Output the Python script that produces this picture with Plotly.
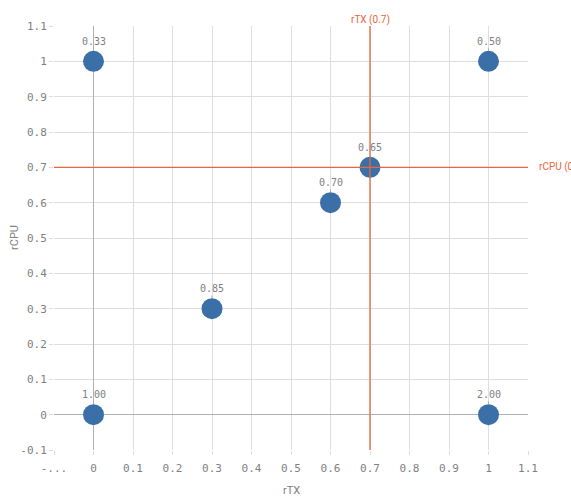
import plotly.graph_objects as go

rtx = [0, 1, 0.7, 0.6, 0.3, 0, 1]
rcpu = [1, 1, 0.7, 0.6, 0.3, 0, 0]
labels = ["0.33", "0.50", "0.65", "0.70", "0.85", "1.00", "2.00"]

x_ticks = [-0.1, 0, 0.1, 0.2, 0.3, 0.4, 0.5, 0.6, 0.7, 0.8, 0.9, 1, 1.1]
x_ticktext = ["-...", "0", "0.1", "0.2", "0.3", "0.4", "0.5", "0.6", "0.7", "0.8", "0.9", "1", "1.1"]
y_ticks = [-0.1, 0, 0.1, 0.2, 0.3, 0.4, 0.5, 0.6, 0.7, 0.8, 0.9, 1, 1.1]
y_ticktext = ["-0.1", "0", "0.1", "0.2", "0.3", "0.4", "0.5", "0.6", "0.7", "0.8", "0.9", "1", "1.1"]

ref_x = 0.7
ref_y = 0.7
ref_x_label = "rTX (0.7)"
ref_y_label = "rCPU (0.7)"

BLUE = "#3b6fa8"
ORANGE = "#e5673a"
GRID = "#dedede"
ZERO = "#b0b0b0"
TXT = "#808080"
MONO = "DejaVu Sans Mono, monospace"
SANS = "Roboto, sans-serif"

fig = go.Figure()

fig.add_trace(go.Scatter(
    x=rtx, y=rcpu, mode="markers",
    marker=dict(size=21, color=BLUE, line=dict(width=0)),
    hoverinfo="skip", showlegend=False,
))

for xv, yv, lab in zip(rtx, rcpu, labels):
    fig.add_annotation(
        x=xv, y=yv, text=lab, showarrow=True, arrowhead=0, arrowwidth=1,
        arrowcolor="#aaaaaa", ax=0, ay=-20, standoff=10.5,
        font=dict(family=MONO, size=10, color=TXT),
    )

fig.add_shape(type="line", xref="x", yref="paper", x0=ref_x, x1=ref_x, y0=0, y1=1,
              line=dict(color=ORANGE, width=1.3), layer="above")
fig.add_shape(type="line", xref="paper", yref="y", x0=0, x1=1, y0=ref_y, y1=ref_y,
              line=dict(color=ORANGE, width=1.3), layer="above")

fig.add_annotation(x=ref_x, y=1, xref="x", yref="paper", yshift=14, text=ref_x_label,
                   showarrow=False, font=dict(family=SANS, size=10, color=ORANGE))
fig.add_annotation(x=1, y=ref_y, xref="paper", yref="y", xshift=9, text=ref_y_label,
                   xanchor="left", showarrow=False,
                   font=dict(family=SANS, size=10, color=ORANGE))

# axis titles
fig.add_annotation(x=0.5, y=0, xref="paper", yref="paper", yshift=-40, text="rTX",
                   showarrow=False, yanchor="middle", font=dict(family=SANS, size=11, color=TXT))
fig.add_annotation(x=0, y=0.5, xref="paper", yref="paper", xshift=-40, text="rCPU",
                   showarrow=False, textangle=-90, xanchor="center",
                   font=dict(family=SANS, size=11, color=TXT))

fig.update_xaxes(
    range=[-0.1, 1.1], tickvals=x_ticks, ticktext=x_ticktext, automargin=False,
    showgrid=True, gridcolor=GRID, gridwidth=1,
    zeroline=True, zerolinecolor=ZERO, zerolinewidth=1,
    ticks="outside", ticklen=4, tickcolor=GRID, ticklabelstandoff=4,
    showline=False,
    tickfont=dict(family=MONO, size=11, color=TXT),
)
fig.update_yaxes(
    range=[-0.1, 1.1], tickvals=y_ticks, ticktext=y_ticktext, automargin=False,
    showgrid=True, gridcolor=GRID, gridwidth=1,
    zeroline=True, zerolinecolor=ZERO, zerolinewidth=1,
    ticks="outside", ticklen=4, tickcolor=GRID,
    showline=False,
    tickfont=dict(family=MONO, size=11, color=TXT),
)

fig.update_layout(
    width=571, height=500,
    margin=dict(l=54, r=43, t=26, b=50, autoexpand=False),
    plot_bgcolor="white", paper_bgcolor="white",
    showlegend=False,
)

fig.write_html("out.html")
